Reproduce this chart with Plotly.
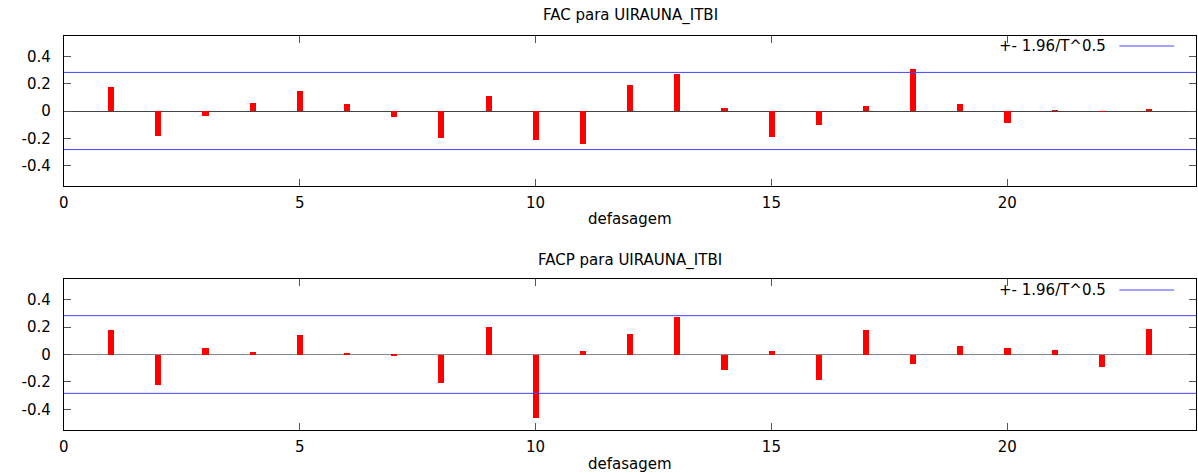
import plotly.graph_objects as go

# ---- data ----
lags = list(range(1, 24))
fac = [0.177, -0.182, -0.034, 0.061, 0.148, 0.053, -0.041, -0.201, 0.109, -0.213,
       -0.242, 0.189, 0.269, 0.019, -0.189, -0.104, 0.039, 0.308, 0.048, -0.087,
       0.002, -0.002, 0.017]
facp = [0.175, -0.223, 0.046, 0.017, 0.141, 0.010, -0.004, -0.206, 0.201, -0.465,
        0.022, 0.150, 0.272, -0.114, 0.029, -0.184, 0.175, -0.068, 0.065, 0.048,
        0.032, -0.092, 0.189]
band = 0.283
band_x = [0, 24]
xtick_vals = [0, 5, 10, 15, 20]
ytick_vals = [-0.4, -0.2, 0, 0.2, 0.4]
ytick_text = ["-0.4", "-0.2", "0", "0.2", "0.4"]
titles = ["FAC para UIRAUNA_ITBI", "FACP para UIRAUNA_ITBI"]
xlabel = "defasagem"
legend_text = "+- 1.96/T^0.5"

W, H = 1198, 473
FONT = "DejaVu Sans"
FS = 15
BAR_COLOR = "#ff0000"
BAND_COLOR = "#4444ff"

def px_x(p):
    return p / W

def px_y(p):
    return 1 - p / H

fig = go.Figure()

panels = [
    dict(vals=fac, xa="x", ya="y", top=36, bottom=186, title_y=15, xlab_y=219, leg_y=46,
         zc="#444444"),
    dict(vals=facp, xa="x2", ya="y2", top=279, bottom=430, title_y=260, xlab_y=464, leg_y=290,
         zc="#888888"),
]

for i, p in enumerate(panels):
    for sgn in (1, -1):
        fig.add_trace(go.Scatter(
            x=band_x, y=[sgn * band, sgn * band], mode="lines",
            line=dict(color=BAND_COLOR, width=1), xaxis=p["xa"], yaxis=p["ya"],
            showlegend=False, hoverinfo="skip"))
    fig.add_trace(go.Bar(
        x=lags, y=p["vals"], width=0.13, marker=dict(color=BAR_COLOR, line=dict(width=0)),
        xaxis=p["xa"], yaxis=p["ya"], showlegend=False))

axis_common = dict(
    showline=True, linecolor="black", linewidth=1, mirror="ticks",
    ticks="inside", ticklen=7, tickcolor="#555555", showgrid=False,
    tickfont=dict(family=FONT, size=FS, color="black"),
)

layout = dict(
    width=W, height=H, margin=dict(l=0, r=0, t=0, b=0),
    paper_bgcolor="white", plot_bgcolor="white", bargap=0, showlegend=False,
    font=dict(family=FONT, size=FS, color="black"),
)
xdom = [px_x(59), px_x(1196)]
for i, p in enumerate(panels):
    sfx = "" if i == 0 else "2"
    layout["xaxis" + sfx] = dict(
        axis_common, domain=xdom, range=[0, 24], tickvals=xtick_vals,
        anchor="y" + sfx, zeroline=False, ticklabelstandoff=3)
    layout["yaxis" + sfx] = dict(
        axis_common, domain=[px_y(p["bottom"]), px_y(p["top"])], range=[-0.55, 0.55],
        tickvals=ytick_vals, ticktext=ytick_text, anchor="x" + sfx,
        zeroline=True, zerolinecolor=p["zc"], zerolinewidth=1, ticklabelstandoff=9)
fig.update_layout(**layout)

shapes = []
annotations = []
for i, p in enumerate(panels):
    annotations.append(dict(
        text=titles[i], x=px_x(628), y=px_y(p["title_y"]), xref="paper", yref="paper",
        xanchor="center", yanchor="middle", showarrow=False,
        font=dict(family=FONT, size=FS, color="black")))
    annotations.append(dict(
        text=xlabel, x=px_x(628), y=px_y(p["xlab_y"]), xref="paper", yref="paper",
        xanchor="center", yanchor="middle", showarrow=False,
        font=dict(family=FONT, size=FS, color="black")))
    annotations.append(dict(
        text=legend_text, x=px_x(1108), y=px_y(p["leg_y"]), xref="paper", yref="paper",
        xanchor="right", yanchor="middle", showarrow=False,
        font=dict(family=FONT, size=FS, color="black")))
    shapes.append(dict(
        type="line", xref="paper", yref="paper", x0=px_x(1119), x1=px_x(1174),
        y0=px_y(p["leg_y"]), y1=px_y(p["leg_y"]), line=dict(color=BAND_COLOR, width=1)))
fig.update_layout(annotations=annotations, shapes=shapes)

fig.write_html("out.html")
